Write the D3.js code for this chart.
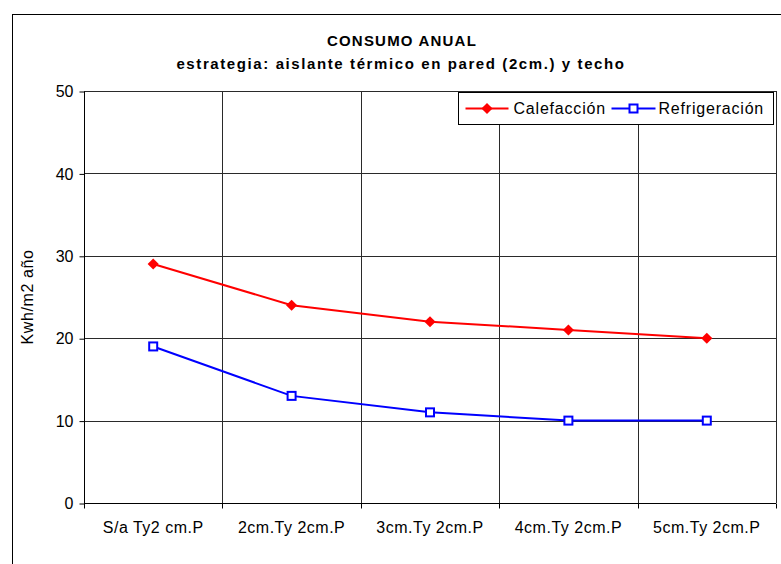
<!DOCTYPE html>
<html>
<head>
<meta charset="utf-8">
<script src="https://cdn.jsdelivr.net/npm/d3@7/dist/d3.min.js"></script>
<style>
  html, body { margin: 0; padding: 0; background: #fff; }
  svg { display: block; font-family: "Liberation Sans", Arial, sans-serif; }
</style>
</head>
<body>
<svg id="chart" width="781" height="564"></svg>
<script>
// Annual consumption per insulation option (kWh/m2 per year)
const categories = ["S/a Ty2 cm.P", "2cm.Ty 2cm.P", "3cm.Ty 2cm.P", "4cm.Ty 2cm.P", "5cm.Ty 2cm.P"];
const calefaccion = [29, 24, 22, 21, 20];
const refrigeracion = [19, 13, 11, 10, 10];
const yTicks = [0, 10, 20, 30, 40, 50];
const seriesNames = ["Calefacción", "Refrigeración"];

const svg = d3.select("#chart");
const W = 781, H = 564;
const plot = { left: 84, right: 776, top: 91, bottom: 503 };

// outer frame of the chart
svg.append("rect")
  .attr("x", 12.5).attr("y", 14.5)
  .attr("width", W).attr("height", H)
  .attr("fill", "#fff").attr("stroke", "#000").attr("stroke-width", 1);

const x = d3.scaleBand().domain(categories).range([plot.left, plot.right]);
const y = d3.scaleLinear().domain([0, 50]).range([plot.bottom, plot.top]);

// horizontal gridlines
svg.append("g").selectAll("line").data(yTicks.filter(d => d > 0)).join("line")
  .attr("x1", plot.left).attr("x2", plot.right)
  .attr("y1", d => Math.round(y(d)) + 0.5).attr("y2", d => Math.round(y(d)) + 0.5)
  .attr("stroke", "#2a2a2a").attr("stroke-width", 1);

// vertical gridlines at category boundaries
svg.append("g").selectAll("line").data(categories).join("line")
  .attr("x1", d => Math.round(x(d) + x.bandwidth()) + 0.5)
  .attr("x2", d => Math.round(x(d) + x.bandwidth()) + 0.5)
  .attr("y1", plot.top).attr("y2", plot.bottom)
  .attr("stroke", "#2a2a2a").attr("stroke-width", 1);

// y axis
const yAxis = d3.axisLeft(y).tickValues(yTicks).tickSize(5).tickPadding(6);
const gy = svg.append("g").attr("transform", `translate(${plot.left + 0.5},0.5)`).call(yAxis);
gy.selectAll("text").attr("font-size", 16).attr("fill", "#000")
  .attr("font-family", "'Liberation Sans', Arial, sans-serif");
gy.selectAll("line, path").attr("stroke", "#000");
gy.select(".domain").attr("d", `M0,${plot.top}V${plot.bottom}`);

// x axis with ticks at band edges
const gx = svg.append("g").attr("transform", `translate(0,${plot.bottom + 0.5})`);
gx.append("line").attr("x1", plot.left).attr("x2", plot.right).attr("stroke", "#000");
gx.selectAll(".tk").data([plot.left].concat(categories.map(c => x(c) + x.bandwidth()))).join("line")
  .attr("class", "tk")
  .attr("x1", d => Math.round(d) + 0.5).attr("x2", d => Math.round(d) + 0.5)
  .attr("y1", 0).attr("y2", 5).attr("stroke", "#000");
gx.selectAll("text").data(categories).join("text")
  .attr("x", d => x(d) + x.bandwidth() / 2)
  .attr("y", 29)
  .attr("text-anchor", "middle")
  .attr("font-size", 16)
  .attr("letter-spacing", 0.5)
  .text(d => d);

// y axis title
svg.append("text")
  .attr("transform", `translate(33,${(plot.top + plot.bottom) / 2}) rotate(-90)`)
  .attr("text-anchor", "middle")
  .attr("font-size", 16)
  .attr("letter-spacing", 0.6)
  .text("Kwh/m2 año");

// titles
svg.append("text").attr("x", 402).attr("y", 46).attr("text-anchor", "middle")
  .attr("font-size", 15).attr("font-weight", "bold").attr("letter-spacing", 1.2)
  .text("CONSUMO ANUAL");
svg.append("text").attr("x", 401).attr("y", 69).attr("text-anchor", "middle")
  .attr("font-size", 15).attr("font-weight", "bold").attr("letter-spacing", 1.6)
  .text("estrategia: aislante térmico en pared (2cm.) y techo");

const cx = d => x(d) + x.bandwidth() / 2;
const line = d3.line().x((d, i) => cx(categories[i])).y(d => y(d));

// diamond marker: a square turned 45 degrees
const diamond = d3.symbol().type(d3.symbolSquare).size(62);

// Calefacción
svg.append("path").datum(calefaccion).attr("d", line)
  .attr("fill", "none").attr("stroke", "#ff0000").attr("stroke-width", 2);
svg.append("g").selectAll("path").data(calefaccion).join("path")
  .attr("d", diamond)
  .attr("transform", (d, i) => `translate(${cx(categories[i])},${y(d)}) rotate(45)`)
  .attr("fill", "#ff0000");

// Refrigeración
svg.append("path").datum(refrigeracion).attr("d", line)
  .attr("fill", "none").attr("stroke", "#0000ff").attr("stroke-width", 2);
svg.append("g").selectAll("rect").data(refrigeracion).join("rect")
  .attr("x", (d, i) => cx(categories[i]) - 4)
  .attr("y", d => y(d) - 4)
  .attr("width", 8).attr("height", 8)
  .attr("fill", "#fff").attr("stroke", "#0000ff").attr("stroke-width", 2);

// legend
const lg = svg.append("g").attr("transform", "translate(458.5,92.5)");
lg.append("rect").attr("width", 315).attr("height", 32)
  .attr("fill", "#fff").attr("stroke", "#000");
lg.append("line").attr("x1", 7).attr("x2", 50).attr("y1", 16).attr("y2", 16)
  .attr("stroke", "#ff0000").attr("stroke-width", 2);
lg.append("path").attr("d", diamond).attr("transform", "translate(28.5,16) rotate(45)").attr("fill", "#ff0000");
lg.append("text").attr("x", 55).attr("y", 21.5).attr("font-size", 16).attr("letter-spacing", 0.8).text(seriesNames[0]);
lg.append("line").attr("x1", 153).attr("x2", 197).attr("y1", 16).attr("y2", 16)
  .attr("stroke", "#0000ff").attr("stroke-width", 2);
lg.append("rect").attr("x", 171).attr("y", 12).attr("width", 8).attr("height", 8)
  .attr("fill", "#fff").attr("stroke", "#0000ff").attr("stroke-width", 2);
lg.append("text").attr("x", 200).attr("y", 21.5).attr("font-size", 16).attr("letter-spacing", 0.8).text(seriesNames[1]);
</script>
</body>
</html>
